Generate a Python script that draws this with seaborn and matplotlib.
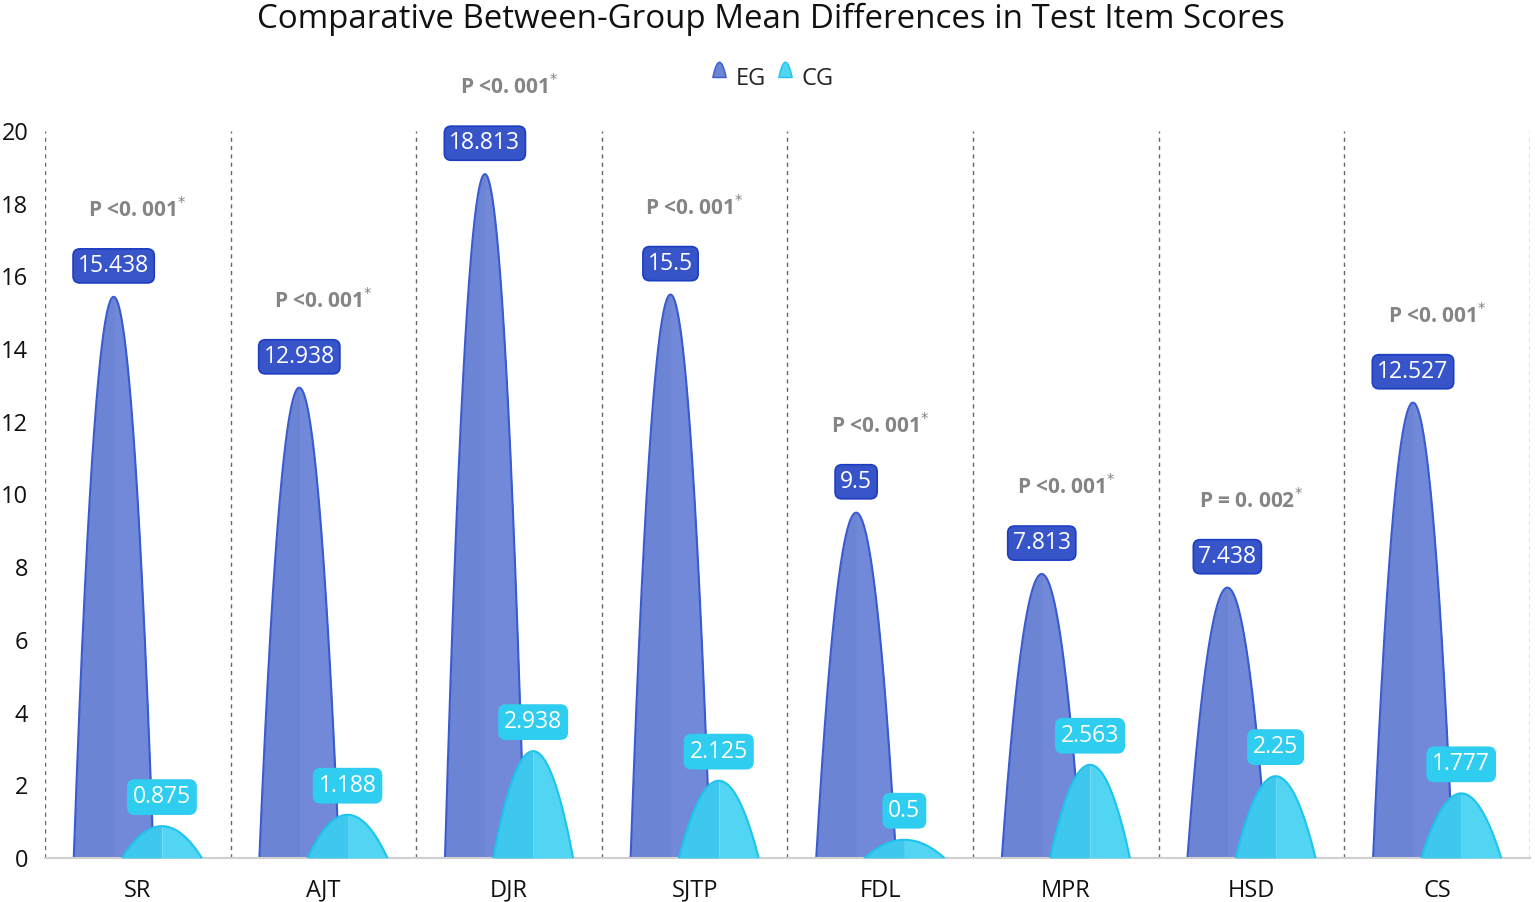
import numpy as np
import pandas as pd
import matplotlib
matplotlib.use('Agg')
import matplotlib.pyplot as plt
import seaborn as sns
from matplotlib.path import Path
from matplotlib.lines import Line2D

# 数据
items = ['SR', 'AJT', 'DJR', 'SJTP', 'FDL', 'MPR', 'HSD', 'CS']
eg_scores = [15.438, 12.938, 18.813, 15.5, 9.5, 7.813, 7.438, 12.527]
cg_scores = [0.875, 1.188, 2.938, 2.125, 0.5, 2.563, 2.25, 1.777]
p_labels = ['P <0. 001*', 'P <0. 001*', 'P <0. 001*', 'P <0. 001*',
            'P <0. 001*', 'P <0. 001*', 'P = 0. 002*', 'P <0. 001*']
groups = ['EG', 'CG']

df = pd.DataFrame({
    'item': items * 2,
    'score': eg_scores + cg_scores,
    'group': ['EG'] * len(items) + ['CG'] * len(items),
})

sns.set_style('white')
plt.rcParams['font.family'] = ['Open Sans', 'DejaVu Sans']

eg_fill, eg_edge, eg_box = '#6b84d4', '#3a5bd0', '#3755c9'
cg_fill_l, cg_fill_r, cg_edge, cg_box = '#3fc8ee', '#52d5f3', '#1cc4ee', '#2fcdf0'

fig = plt.figure(figsize=(15.35, 9.02), dpi=100)
ax = fig.add_axes([0.0293, 0.0488, 0.9674, 0.806])

# 用 seaborn 建立类别坐标（柱子本身隐藏，之后画成山峰形状）
sns.barplot(data=df, x='item', y='score', hue='group', hue_order=groups,
            width=0.52, ax=ax, legend=False, errorbar=None,
            palette=[eg_fill, cg_fill_r])

hw = 0.215
t = np.linspace(-1, 1, 201)
bars = list(ax.patches)
n = len(items)
for k, p in enumerate(bars):
    cx = p.get_x() + p.get_width() / 2
    v = p.get_height()
    p.set_visible(False)
    is_eg = k < n
    xs = cx + t * hw
    ys = v * (1 - np.abs(t) ** 2)
    z = 2 if is_eg else 3
    if is_eg:
        ax.fill_between(xs, 0, ys, color=eg_fill, lw=0, zorder=z)
        ax.fill_between(xs[t >= 0], 0, ys[t >= 0], color='#7189d8', lw=0, zorder=z)
        ax.plot(xs, ys, color=eg_edge, lw=1.5, zorder=z)
        ax.text(cx, v + 0.85, f'{v:g}', ha='center', va='center', color='white',
                fontsize=16.5, zorder=5,
                bbox=dict(boxstyle='round,pad=0.22,rounding_size=0.3',
                          fc=eg_box, ec='#1c3dc2', lw=1.2))
    else:
        ax.fill_between(xs[t <= 0], 0, ys[t <= 0], color=cg_fill_l, lw=0, zorder=z)
        ax.fill_between(xs[t >= 0], 0, ys[t >= 0], color=cg_fill_r, lw=0, zorder=z)
        ax.plot(xs, ys, color=cg_edge, lw=1.5, zorder=z)
        ax.text(cx, v + 0.8, f'{v:g}', ha='center', va='center', color='white',
                fontsize=16.5, zorder=5,
                bbox=dict(boxstyle='round,pad=0.22,rounding_size=0.3',
                          fc=cg_box, ec=cg_box, lw=1.2))

# P 值
for i, (lab, v) in enumerate(zip(p_labels, eg_scores)):
    ax.text(i, v + 2.4, lab.replace('*', r'$^{*}$'), ha='center', va='center',
            color='#858585', fontsize=15, fontweight='bold')

# 分隔虚线
for k in range(n + 1):
    ax.axvline(k - 0.5, ymin=0, ymax=1, color='#666666', lw=1,
               ls=(0, (3, 3)), zorder=1)

ax.set_xlim(-0.5, n - 0.5)
ax.set_ylim(0, 20)
ax.set_yticks(range(0, 21, 2))
ax.set_xlabel('')
ax.set_ylabel('')
ax.tick_params(axis='both', length=0, labelsize=17, colors='#111111')
ax.tick_params(axis='y', pad=12)
ax.tick_params(axis='x', pad=15)
for s in ['top', 'right', 'left']:
    ax.spines[s].set_visible(False)
ax.spines['bottom'].set_color('#d0d0d0')
ax.spines['bottom'].set_linewidth(1.5)

# 图例：小山峰标记
mt = np.linspace(-1, 1, 31)
verts = [(0.7 * x, 1.6 * (1 - x ** 2)) for x in mt] + [(0.7, 0), (-0.7, 0), (-0.7, 0)]
codes = [Path.MOVETO] + [Path.LINETO] * (len(verts) - 2) + [Path.CLOSEPOLY]
mountain = Path(verts, codes)
handles = [Line2D([], [], ls='none', marker=mountain, markersize=22,
                  markerfacecolor=eg_fill, markeredgecolor=eg_edge),
           Line2D([], [], ls='none', marker=mountain, markersize=22,
                  markerfacecolor=cg_fill_r, markeredgecolor=cg_edge)]
fig.legend(handles, groups, loc='center', bbox_to_anchor=(0.502, 0.912), ncol=2,
           frameon=False, fontsize=17, handletextpad=0.2, columnspacing=0.3,
           handlelength=1.0)

fig.suptitle('Comparative Between-Group Mean Differences in Test Item Scores',
             x=0.502, y=0.997, fontsize=23.8, color='#111111')

fig.savefig('out.png', dpi=100)
